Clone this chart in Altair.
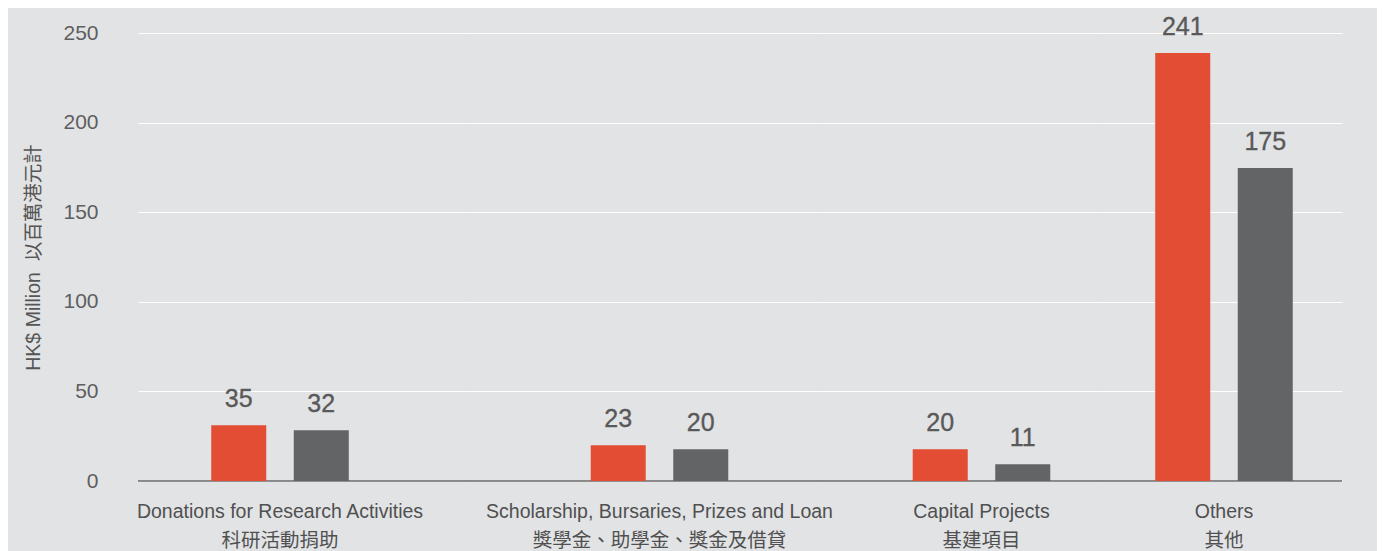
import altair as alt
import pandas as pd

# ---- data ----
categories_en = [
    "Donations for Research Activities",
    "Scholarship, Bursaries, Prizes and Loan",
    "Capital Projects",
    "Others",
]
categories_zh = ["科研活動捐助", "獎學金、助學金、獎金及借貸", "基建項目", "其他"]
series_names = ["Series 1", "Series 2"]
# printed value labels
labels_series1 = [35, 23, 20, 241]
labels_series2 = [32, 20, 11, 175]
# bar heights as drawn in the reference (HK$ million)
heights_series1 = [31.1, 19.9, 17.7, 238.9]
heights_series2 = [28.3, 17.7, 9.3, 174.7]
y_ticks = [0, 50, 100, 150, 200, 250]

rows = []
for i, (en, zh) in enumerate(zip(categories_en, categories_zh)):
    for s, hs, ls in zip(series_names,
                         [heights_series1, heights_series2],
                         [labels_series1, labels_series2]):
        rows.append({"idx": i, "category": en + "\n" + zh, "series": s,
                     "height": hs[i], "label": str(ls[i])})
df = pd.DataFrame(rows)

# ---- layout / style ----
BG = "#e2e3e5"
RED = "#e24d33"
GREY = "#636466"
FONT = "Liberation Sans, Noto Sans CJK TC, sans-serif"
PANEL_W = [332, 350, 282, 240]
PAIR_CENTER = [142, 189.5, 161.5, 122]   # centre of each bar pair inside its panel
BAND = 165.05
H = 448

def panel(i):
    w = PANEL_W[i]
    po = (w / BAND - 1) / 2
    start = PAIR_CENTER[i] - 82.5
    align = start / (w - 165)
    base = alt.Chart(df).transform_filter(alt.datum.idx == i)

    if i == 0:
        yaxis = alt.Axis(values=y_ticks, grid=True, domain=False, ticks=False,
                         labelPadding=40, labelFontSize=21, labelColor="#5e5e5e",
                         labelFont=FONT, labelBaseline="middle",
                         title="HK$ Million\u00a0 以百萬港元計", titleFont=FONT,
                         titleFontSize=19.5, titleFontWeight="normal",
                         titleColor="#555555", titleX=-105, titleY=H / 2,
                         titleBaseline="middle", titleAlign="center")
    else:
        yaxis = alt.Axis(values=y_ticks, grid=True, domain=False, ticks=False,
                         labels=False, title=None)

    xenc = alt.X("category:N", sort=None,
                 scale=alt.Scale(paddingInner=0, paddingOuter=po, align=align),
                 axis=alt.Axis(title=None, labelAngle=0, ticks=False, domain=False,
                               labelExpr="split(datum.label, '\\n')",
                               labelPadding=21, labelFontSize=19.5,
                               labelLineHeight=29, labelColor="#505050",
                               labelFont=FONT, labelLimit=0, labelBaseline="top"))
    xoff = alt.XOffset("series:N", sort=series_names,
                       scale=alt.Scale(paddingInner=1 / 3, paddingOuter=1 / 6))
    yenc = alt.Y("height:Q", scale=alt.Scale(domain=[0, 250], nice=False), axis=yaxis)

    rule = base.transform_filter(alt.datum.series == series_names[0]).mark_rule(
        color="#6a6a6a", strokeWidth=1.5).encode(y=alt.datum(0))
    bars = base.mark_bar().encode(
        x=xenc, xOffset=xoff, y=yenc,
        color=alt.Color("series:N", scale=alt.Scale(domain=series_names, range=[RED, GREY]),
                        legend=None))
    text = base.mark_text(dy=-18, baseline="alphabetic", fontSize=25, font=FONT,
                          color="#595959", stroke="#595959", strokeWidth=0.35).encode(
        x=xenc, xOffset=xoff, y=yenc, text="label:N")
    return alt.layer(rule, bars, text).properties(width=w, height=H)

chart = alt.hconcat(*[panel(i) for i in range(4)], spacing=0, bounds="flush").resolve_scale(
    x="independent", y="independent", xOffset="independent"
).properties(
    autosize=alt.AutoSizeParams(type="none"),
    padding={"left": 130, "top": 25, "right": 1239, "bottom": 510},
).configure(background=BG).configure_view(stroke=None).configure_axis(
    gridColor="white", gridWidth=1, gridOpacity=1)

chart.save("out.html", embed_options={"renderer": "svg", "actions": False})
